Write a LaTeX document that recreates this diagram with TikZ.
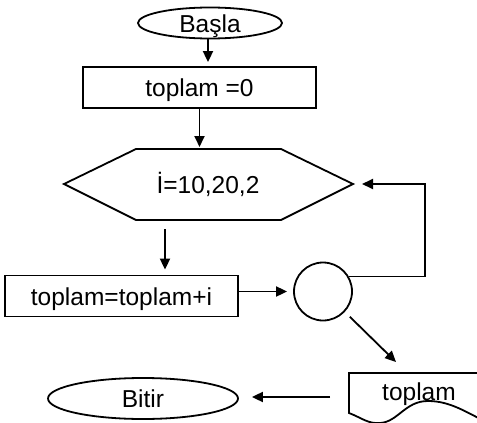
\documentclass[tikz,border=0pt]{standalone}
\usepackage{fontspec}
\setmainfont{Liberation Sans}
\usetikzlibrary{arrows.meta,shapes.geometric}
\begin{document}
\begin{tikzpicture}[x=1pt,y=-1pt,line width=1.8pt,
  lbl/.style={font=\fontsize{24.5}{28}\selectfont,text height=19pt,text depth=1pt},
  term/.style={lbl,ellipse,draw,inner sep=0pt},
  proc/.style={lbl,rectangle,draw,inner sep=0pt},
  conn/.style={circle,draw,inner sep=0pt,minimum size=58pt},
  arr/.style={-{Triangle[length=11pt,width=10pt]}},
]
\useasboundingbox (0,0) rectangle (477,423);
% start
\node[term,minimum width=144pt,minimum height=31pt] (start) at (210,23) {Başla};
% init
\node[proc,minimum width=233pt,minimum height=41pt] (init) at (199.5,87.5) {toplam =0};
% loop hexagon
\coordinate (hl) at (64,184);
\coordinate (htl) at (136,149);
\coordinate (htr) at (281,149);
\coordinate (hr) at (353,184);
\coordinate (hbr) at (281,220);
\coordinate (hbl) at (136,220);
\draw[line join=miter] (hl) -- (htl) -- (htr) -- (hr) -- (hbr) -- (hbl) -- cycle;
\node[lbl] (loop) at (208,184.5) {İ=10,20,2};
% sum
\node[proc,minimum width=233pt,minimum height=41pt] (sum) at (121.5,296) {toplam=toplam+i};
% connector circle
\node[conn] (cc) at (323,291.5) {};
% document
\coordinate (dtl) at (349,373);
\coordinate (dbl) at (349,413);
\draw (490,373) -- (dtl) -- (dbl)
  .. controls (362,418) and (368,424) .. (380,423)
  .. controls (398,422) and (405,401) .. (428,401)
  .. controls (450,401) and (466,412) .. (490,424);
\node[lbl] (out) at (419,391) {toplam};
% end
\node[term,minimum width=190pt,minimum height=41pt] (stop) at (143,398.5) {Bitir};
% connectors
\draw[arr,shorten >=4pt] (start.south -| 208,0) -- (init.north -| 208,0);
\draw[arr,shorten >=2pt] (init.south) -- (init.south |- htl);
\coordinate (a3) at (165,229);
\draw[arr,shorten >=5pt] (a3) -- (a3 |- sum.north);
\draw[arr,shorten >=6pt] (sum.east |- cc.west) -- (cc.west);
\coordinate (lp) at (425,184);
\draw[arr,shorten >=9pt] (cc.30) -| (lp) -- (hr);
\coordinate (a5) at (396,362);
\draw[arr,shorten <=7pt] (cc.-43) -- (a5);
\coordinate (a6) at (330,397);
\draw[arr,shorten >=13pt] (a6) -- (a6 -| stop.east);
\end{tikzpicture}
\end{document}
